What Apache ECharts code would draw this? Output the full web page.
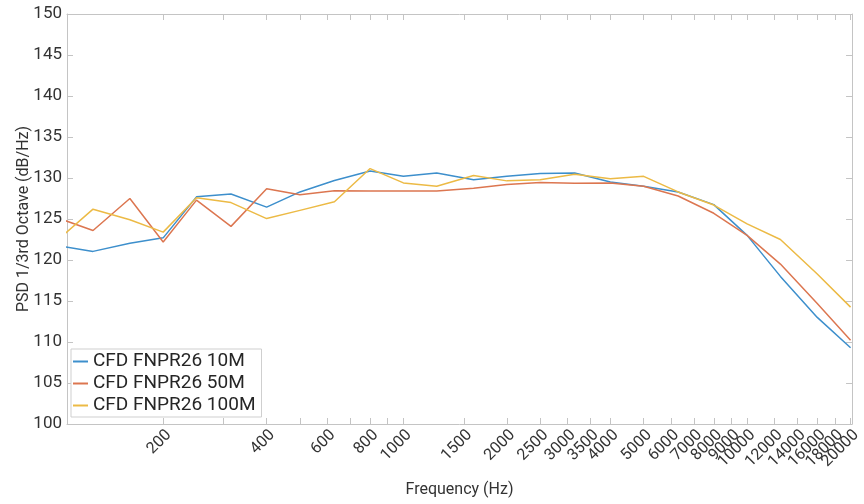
<!DOCTYPE html>
<html>
<head>
<meta charset="utf-8">
<script src="https://cdn.jsdelivr.net/npm/echarts@6/dist/echarts.min.js"></script>
<style>html,body{margin:0;padding:0;background:#fff}#c{width:864px;height:504px}</style>
</head>
<body>
<div id="c"></div>
<script>
const freqs = [100,125,160,200,250,315,400,500,630,800,1000,1250,1600,2000,2500,3150,4000,5000,6300,8000,10000,12500,16000,20000];
const s10M  = [121.7,121.05,122.05,122.7,127.7,128.05,126.45,128.3,129.7,130.85,130.2,130.6,129.8,130.2,130.55,130.6,129.5,129.0,128.3,126.75,123.0,118.0,113.0,109.3];
const s50M  = [125.05,123.6,127.5,122.2,127.3,124.1,128.7,127.95,128.45,128.4,128.4,128.4,128.75,129.2,129.45,129.35,129.4,129.0,127.8,125.7,123.0,119.5,114.7,110.2];
const s100M = [122.65,126.2,124.9,123.4,127.6,127.0,125.05,126.05,127.1,131.15,129.4,129.0,130.3,129.65,129.8,130.45,129.9,130.2,128.3,126.7,124.4,122.5,118.3,114.25];
const seriesNames = ['CFD FNPR26 10M','CFD FNPR26 50M','CFD FNPR26 100M'];
const xTickValues = [200,300,400,500,600,700,800,900,1000,1500,2000,2500,3000,3500,4000,5000,6000,7000,8000,9000,10000,12000,14000,16000,18000,20000];
// tick labels, split over two overlaid axes so that ECharts does not drop crowded end labels
const xLabelValuesA = [200,400,600,800,1000,1500,2000,2500,3000,3500,4000,5000,6000,7000,8000,9000,10000,12000,16000,20000];
const xLabelValuesB = [14000,18000];
const yTicks = [100,105,110,115,120,125,130,135,140,145,150];

const colors = ['#3d8fcc','#dc7650','#ecba45'];
const axisGray = '#c4c4c4';
const textCol = '#333333';
const font = 'Roboto';

const pair = (ys) => freqs.map((f,i)=>[f, ys[i]]);
const chart = echarts.init(document.getElementById('c'), null, {renderer:'canvas'});
const xCommon = {
  type:'log', logBase:10, min:105, max:20200,
  splitLine:{show:false},
  axisLine:{show:true, lineStyle:{color:axisGray, width:1}},
  axisTick:{show:true, inside:true, length:6, customValues:xTickValues, lineStyle:{color:axisGray}},
  minorTick:{show:false}
};
const xLabelStyle = {show:true, rotate:45, margin:3, verticalAlign:'top',
  hideOverlap:false, showMinLabel:true, showMaxLabel:true,
  fontFamily:font, fontSize:16, color:textCol,
  formatter:(v)=>String(Math.round(v))};
const yCommon = {
  type:'value', min:yTicks[0], max:yTicks[yTicks.length-1], interval:5,
  splitLine:{show:false},
  axisLine:{show:true, lineStyle:{color:axisGray, width:1}},
  axisTick:{show:true, inside:true, length:6, lineStyle:{color:axisGray}}
};
chart.setOption({
  animation:false,
  backgroundColor:'#fff',
  grid:{left:67, right:9, top:14, bottom:80, containLabel:false},
  xAxis:[
    Object.assign({}, xCommon, {
      position:'bottom',
      name:'Frequency (Hz)', nameLocation:'middle', nameGap:58, nameMoveOverlap:false,
      nameTextStyle:{fontFamily:font, fontSize:16, color:textCol},
      axisLabel:Object.assign({}, xLabelStyle, {customValues:xLabelValuesA})
    }),
    Object.assign({}, xCommon, {position:'top', axisLabel:{show:false}, name:''}),
    Object.assign({}, xCommon, {
      position:'bottom', name:'',
      axisLine:{show:false}, axisTick:{show:false},
      axisLabel:Object.assign({}, xLabelStyle, {customValues:xLabelValuesB})
    })
  ],
  yAxis:[
    Object.assign({}, yCommon, {
      position:'left',
      name:'PSD 1/3rd Octave (dB/Hz)', nameLocation:'middle', nameGap:35, nameMoveOverlap:false,
      nameTextStyle:{fontFamily:font, fontSize:16, color:textCol},
      axisLabel:{show:true, margin:5, fontFamily:font, fontSize:17, color:textCol}
    }),
    Object.assign({}, yCommon, {position:'right', axisLabel:{show:false}})
  ],
  legend:{
    show:true, orient:'vertical', left:71, top:349,
    backgroundColor:'#fff', borderColor:'#cfcfcf', borderWidth:1,
    padding:[3,6,2,2], itemGap:3, itemWidth:15, itemHeight:2, icon:'rect',
    textStyle:{fontFamily:font, fontSize:19, color:'#262626'},
    data:seriesNames
  },
  series:[s10M, s50M, s100M].map((ys,i)=>({
    name:seriesNames[i], type:'line', data:pair(ys), xAxisIndex:0, yAxisIndex:0,
    showSymbol:false, symbol:'none', clip:true,
    lineStyle:{color:colors[i], width:1.5}, itemStyle:{color:colors[i]}, z:3+i
  }))
});
</script>
</body>
</html>
